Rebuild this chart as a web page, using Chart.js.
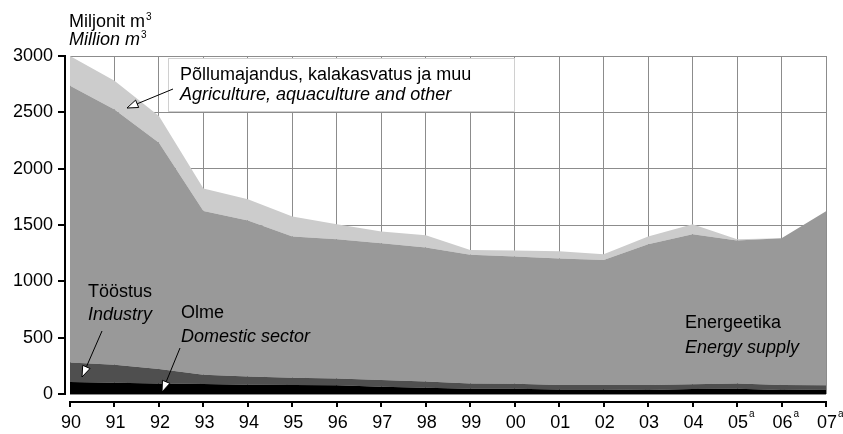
<!DOCTYPE html>
<html><head><meta charset="utf-8">
<script src="https://cdn.jsdelivr.net/npm/chart.js@4/dist/chart.umd.min.js"></script>
<style>html,body{margin:0;padding:0;background:#fff;}</style>
</head><body>
<canvas id="c" width="843" height="434"></canvas>
<script>
const years = ["90","91","92","93","94","95","96","97","98","99","00","01","02","03","04","05","06","07"];
const yearNotes = ["","","","","","","","","","","","","","","","a","a","a"];
const domestic    = [106,100, 94, 89, 82, 80, 77, 65, 56, 47, 47, 41, 41, 35, 44, 47, 35, 41];
const industry    = [174,160,128, 82, 74, 65, 61, 59, 56, 47, 44, 39, 39, 45, 42, 47, 45, 36];
const energy      = [2455,2266,2009,1454,1384,1253,1236,1215,1188,1141,1129,1123,1110,1250,1332,1268,1303,1545];
const agriculture = [265,254,236,198,188,177,133,103,110, 44, 54, 65, 51, 68, 89, 12,  0,  0];
const yMin = 0, yMax = 3000, yStep = 500;

const FONT = '"Liberation Sans", Arial, sans-serif';
const FS = 18;
const gridColor = '#8c8c8c';

function arrow(ctx, x1, y1, x2, y2) {
  const ang = Math.atan2(y2 - y1, x2 - x1);
  const L = 11, W = 4;
  const bx = x2 - L * Math.cos(ang), by = y2 - L * Math.sin(ang);
  ctx.save();
  ctx.strokeStyle = '#000'; ctx.lineWidth = 1;
  ctx.beginPath(); ctx.moveTo(x1, y1); ctx.lineTo(bx, by); ctx.stroke();
  ctx.beginPath();
  ctx.moveTo(x2, y2);
  ctx.lineTo(bx + W * Math.sin(ang), by - W * Math.cos(ang));
  ctx.lineTo(bx - W * Math.sin(ang), by + W * Math.cos(ang));
  ctx.closePath();
  ctx.fillStyle = '#fff'; ctx.fill(); ctx.stroke();
  ctx.restore();
}

function textSup(ctx, main, sup, x, y, font, supFont, supRise) {
  ctx.font = font;
  ctx.fillText(main, x, y);
  const w = ctx.measureText(main).width;
  ctx.font = supFont;
  ctx.fillText(sup, x + w + 1, y - supRise);
}

const decor = {
  id: 'decor',
  afterDatasetsDraw(chart) {
    const ctx = chart.ctx;
    const xs = chart.scales.x, ys = chart.scales.y;
    const ca = chart.chartArea;
    ctx.save();
    ctx.fillStyle = '#000';
    // y axis line + ticks
    const axX = ca.left - 5;
    ctx.fillRect(axX - 1, ys.getPixelForValue(yMax) - 1, 2, ys.getPixelForValue(yMin) - ys.getPixelForValue(yMax) + 2);
    for (let v = yMin; v <= yMax; v += yStep) {
      const py = Math.round(ys.getPixelForValue(v));
      ctx.fillRect(axX - 7, py - 1, 7, 2);
    }
    // x axis line + ticks
    const axY = ca.bottom + 8;
    ctx.fillRect(xs.getPixelForValue(0) - 1, axY - 1, xs.getPixelForValue(years.length - 1) - xs.getPixelForValue(0) + 2, 2);
    years.forEach((y, i) => {
      const px = Math.round(xs.getPixelForValue(i));
      ctx.fillRect(px - 1, axY - 1, 2, 6);
    });
    // x tick labels with superscript notes
    ctx.textBaseline = 'alphabetic';
    years.forEach((y, i) => {
      const px = xs.getPixelForValue(i);
      ctx.font = FS + 'px ' + FONT;
      ctx.textAlign = 'center';
      ctx.fillText(y, px + 1, 428);
      if (yearNotes[i]) {
        const w = ctx.measureText(y).width;
        ctx.font = '10px ' + FONT;
        ctx.textAlign = 'left';
        ctx.fillText(yearNotes[i], px + 1 + w / 2 + 1, 417);
      }
    });
    ctx.textAlign = 'left';
    // axis title
    textSup(ctx, 'Miljonit m', '3', 69, 27, FS + 'px ' + FONT, '10px ' + FONT, 7);
    textSup(ctx, 'Million m', '3', 69, 45, 'italic ' + FS + 'px ' + FONT, '10px ' + FONT, 7);
    // legend box for agriculture
    ctx.fillStyle = '#fff';
    ctx.fillRect(168, 58, 347, 54);
    ctx.strokeStyle = '#d0d0d0'; ctx.lineWidth = 1;
    ctx.strokeRect(168.5, 58.5, 346, 53);
    ctx.fillStyle = '#000';
    ctx.font = FS + 'px ' + FONT;
    ctx.fillText('Põllumajandus, kalakasvatus ja muu', 180, 80);
    ctx.font = 'italic ' + FS + 'px ' + FONT;
    ctx.fillText('Agriculture, aquaculture and other', 180, 100);
    // in-plot labels
    ctx.font = FS + 'px ' + FONT;
    ctx.fillText('Tööstus', 88, 297);
    ctx.fillText('Olme', 181, 318);
    ctx.fillText('Energeetika', 685, 328);
    ctx.font = 'italic ' + FS + 'px ' + FONT;
    ctx.fillText('Industry', 88, 320);
    ctx.fillText('Domestic sector', 181, 342);
    ctx.fillText('Energy supply', 685, 353);
    // arrows
    arrow(ctx, 173, 89, 127, 108);
    arrow(ctx, 102, 331, 82, 377);
    arrow(ctx, 180, 348, 162, 392);
    ctx.restore();
  }
};

const mk = (label, data, color, fill) => ({
  label, data, backgroundColor: color, borderColor: color, borderWidth: 0,
  fill, pointRadius: 0, tension: 0
});

new Chart(document.getElementById('c'), {
  type: 'line',
  data: {
    labels: years,
    datasets: [
      mk('Olme / Domestic sector', domestic, '#000000', 'origin'),
      mk('Tööstus / Industry', industry, '#4f4f4f', '-1'),
      mk('Energeetika / Energy supply', energy, '#999999', '-1'),
      mk('Põllumajandus, kalakasvatus ja muu / Agriculture, aquaculture and other', agriculture, '#cccccc', '-1')
    ]
  },
  options: {
    responsive: false,
    animation: false,
    devicePixelRatio: 1,
    layout: { padding: { top: 56, right: 17, left: 0, bottom: 0 } },
    plugins: { legend: { display: false }, tooltip: { enabled: false } },
    scales: {
      x: {
        type: 'category', offset: false,
        grid: { color: gridColor, lineWidth: 1, drawTicks: false, offset: false },
        border: { display: false },
        ticks: { display: false },
        afterFit(s) { s.height = 40; s.paddingLeft = 0; s.paddingRight = 0; }
      },
      y: {
        stacked: true, min: yMin, max: yMax,
        grid: { color: gridColor, lineWidth: 1, drawTicks: false },
        border: { display: false },
        ticks: { stepSize: yStep, color: '#000', font: { family: FONT, size: FS }, padding: 17,
                 callback: v => String(v) },
        afterFit(s) { s.width = 70; }
      }
    }
  },
  plugins: [decor]
});
</script>
</body></html>
